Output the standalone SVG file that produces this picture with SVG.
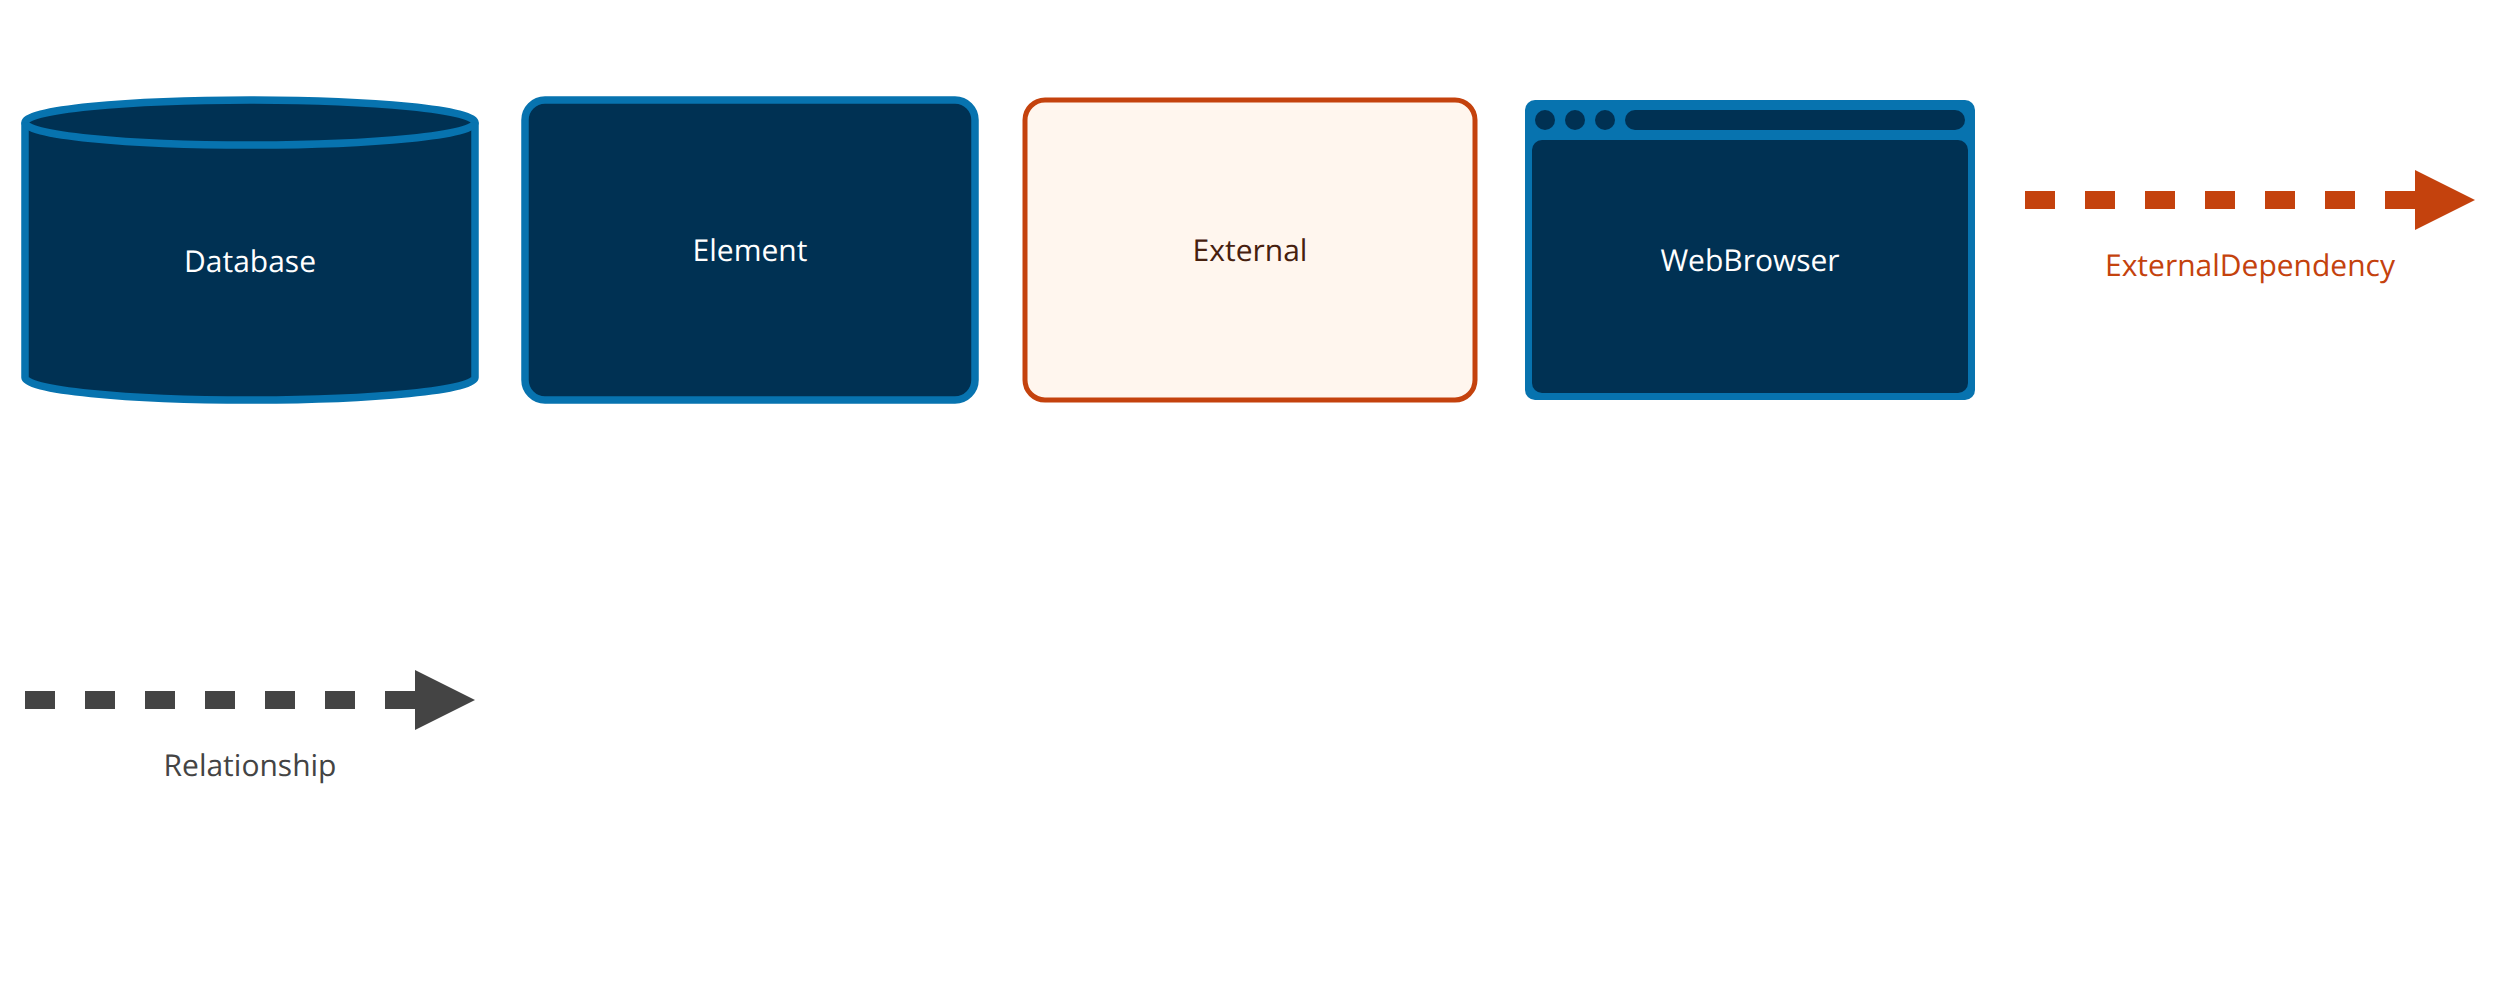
<svg xmlns="http://www.w3.org/2000/svg" width="2500" height="1000" viewBox="0 0 2500 1000">
<defs><style>
text{font-family:"Open Sans","Noto Sans",sans-serif;font-size:30px;text-anchor:middle;text-rendering:geometricPrecision}
.light{fill:#fff}
.dark{fill:#003153;stroke:#0773af;stroke-width:7.500}
.blue{fill:#0773af}
.navy{fill:#003153}
.dash{fill:none;stroke-width:18;stroke-dasharray:30 30}
</style></defs>
<g id="database">
<path class="dark" d="M25 122.500A225 22.500 0 0 1 475 122.500V377.500A225 22.500 0 0 1 25 377.500Z"/>
<path class="dark" style="fill:none" d="M25 122.500A225 22.500 0 0 0 475 122.500"/>
<text class="light" x="250" y="272">Database</text>
</g>
<g id="element">
<rect class="dark" x="525" y="100" width="450" height="300" rx="20"/>
<text class="light" x="750" y="261">Element</text>
</g>
<g id="external">
<rect x="1025" y="100" width="450" height="300" rx="20" fill="#fff6ee" stroke="#c4420d" stroke-width="5"/>
<text x="1250" y="261" fill="#46200e">External</text>
</g>
<g id="webbrowser">
<rect class="blue" x="1525" y="100" width="450" height="300" rx="10"/>
<rect class="navy" x="1532" y="140" width="436" height="253" rx="10"/>
<circle class="navy" cx="1545" cy="120" r="10"/>
<circle class="navy" cx="1575" cy="120" r="10"/>
<circle class="navy" cx="1605" cy="120" r="10"/>
<rect class="navy" x="1625" y="110" width="340" height="20" rx="10"/>
<text class="light" x="1750" y="271">WebBrowser</text>
</g>
<g id="connectors">
<g id="external-dependency">
<path class="dash" stroke="#c4420d" d="M2025 200H2415"/>
<path fill="#c4420d" d="M2415 170L2475 200L2415 230Z"/>
<text x="2250" y="276" fill="#c4420d">ExternalDependency</text>
</g>
<g id="relationship">
<path class="dash" stroke="#444" d="M25 700H415"/>
<path fill="#444" d="M415 670L475 700L415 730Z"/>
<text x="250" y="776" fill="#444">Relationship</text>
</g>
</g>
</svg>
